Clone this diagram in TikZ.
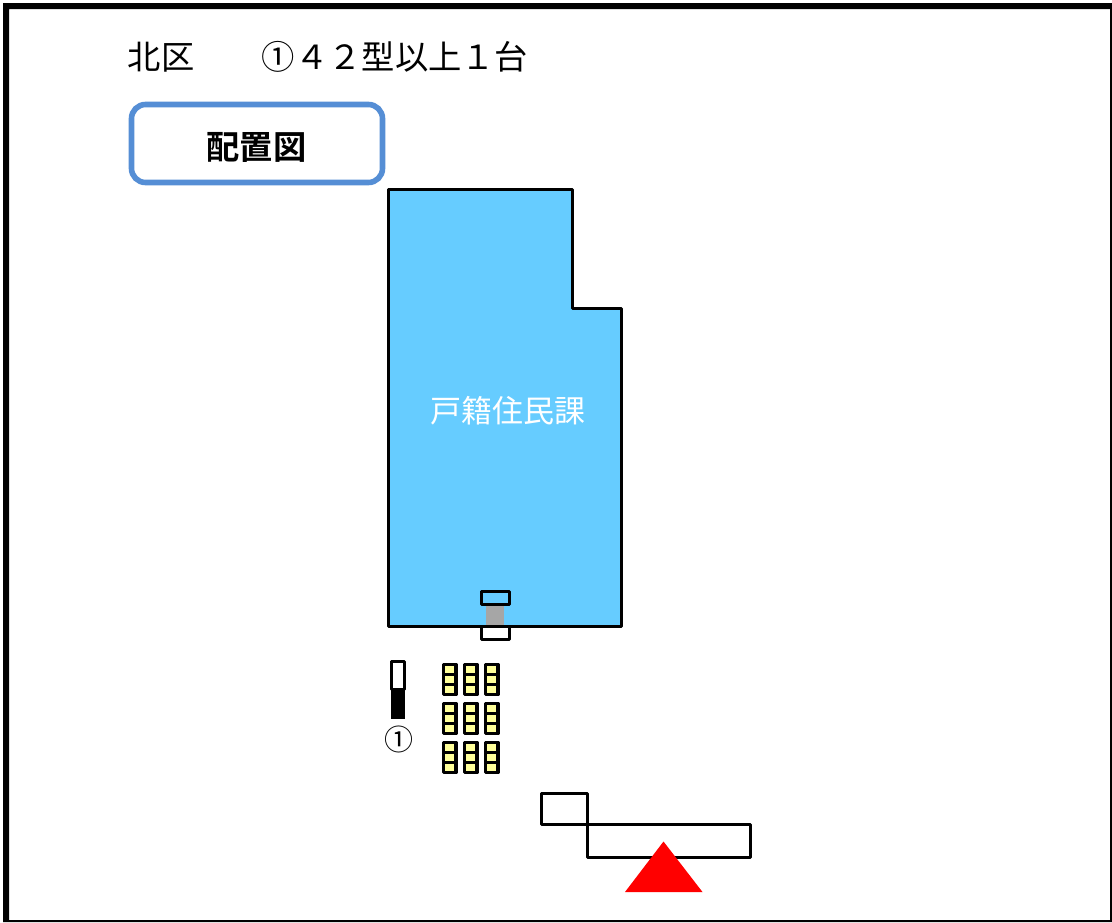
\documentclass[tikz,border=0pt]{standalone}
\usepackage{fontspec}
\setmainfont{Noto Sans CJK JP}
\newfontfamily\jpbold{Noto Sans CJK JP Bold}
\definecolor{hall}{HTML}{66CCFF}
\definecolor{seat}{HTML}{FFFF99}
\definecolor{gate}{HTML}{A6A6A6}
\definecolor{label}{HTML}{558ED5}
\tikzset{
  px/.style={x=1pt,y=-1pt},
  wall/.style={draw=black,line width=3pt,line join=round},
  seatcell/.style={draw=black,line width=3.4pt,line join=round,fill=seat},
  title/.style={inner sep=0pt,font=\fontsize{33.3}{33.3}\selectfont,anchor=center},
}
\begin{document}
\begin{tikzpicture}[px]
\useasboundingbox (0,0) rectangle (1112,922);
\fill[black,even odd rule] (3,3) rectangle (1112,922) (9,9) rectangle (1110,920);
\node[title] (ward) at (161,57) {北区};
\node[title] (spec) at (395,57) {①４２型以上１台};
\draw[draw=label,line width=5.6pt,fill=white,rounded corners=14pt] (131.5,104.5) rectangle (382.5,182.5);
\node[title,font=\fontsize{33.3}{33.3}\jpbold] (map) at (256.5,147) {配置図};
% hall
\draw[wall,fill=hall] (388.5,189.5) -- (572.5,189.5) -- (572.5,308.5) -- (621.5,308.5) -- (621.5,626.5) -- (388.5,626.5) -- cycle;
\node[title,font=\fontsize{31}{31}\selectfont,text=white] (hallname) at (507.5,411) {戸籍住民課};
% counter
\fill[gate] (485.5,604) rectangle (504,625);
\draw[wall,fill=hall] (481.3,591.5) rectangle (509.5,604);
\draw[wall,fill=white] (481.3,626.5) rectangle (509.5,639);
% tv
\fill[black] (391,689) rectangle (405,719);
\draw[wall,fill=white] (391.8,661.5) rectangle (404.5,689);
\node[inner sep=0pt,font=\fontsize{29}{29}\selectfont] (tvmark) at (399,739.5) {①};
% seats
\foreach \gy in {664.5,703.5,742.5}{
  \foreach \gx in {443.2,464.2,485.2}{
    \foreach \k in {0,1,2}{
      \draw[seatcell] (\gx,\gy+10*\k) rectangle (\gx+12.6,\gy+10*\k+10);
    }
  }
}
% entrance
\draw[wall] (541.5,793.5) rectangle (587.5,824.5);
\draw[wall] (587.5,824.8) rectangle (750,857.8);
\fill[red] (663.5,841.5) -- (702.5,892) -- (625,892) -- cycle;
\end{tikzpicture}
\end{document}
